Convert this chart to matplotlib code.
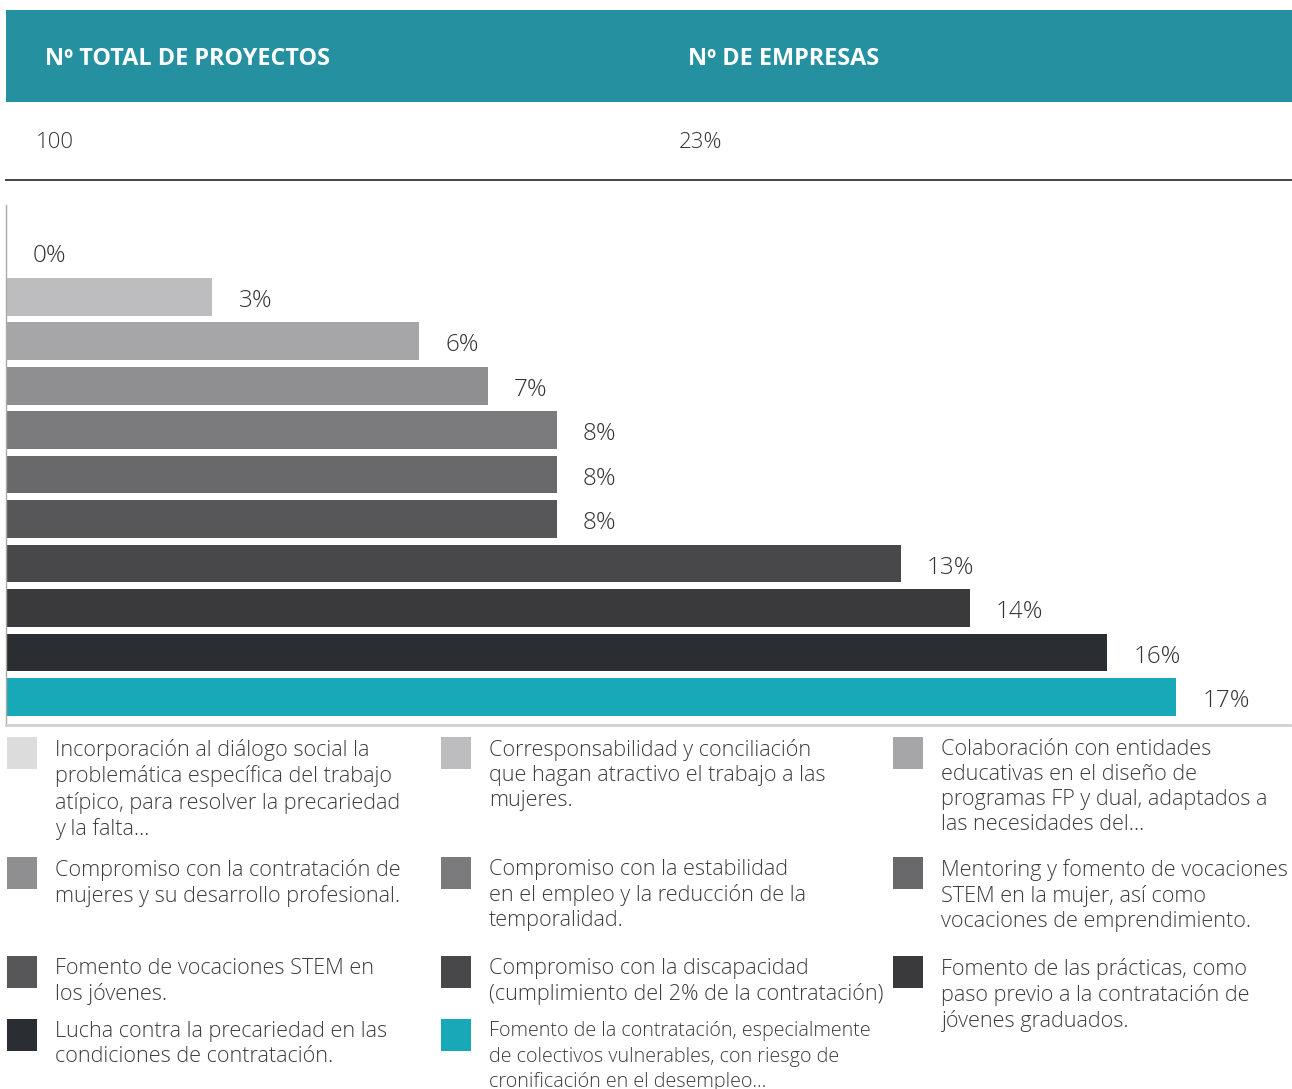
import matplotlib.pyplot as plt
from matplotlib.patches import Rectangle

plt.rcParams['font.family'] = ['Open Sans', 'DejaVu Sans']

# header table
header_titles = ["Nº TOTAL DE PROYECTOS", "Nº DE EMPRESAS"]
header_values = ["100", "23%"]

# bars, top to bottom
values = [0, 3, 6, 7, 8, 8, 8, 13, 14, 16, 17]
colors = ["#dcdcdd", "#bdbcbe", "#a6a5a7", "#8f8e90", "#7b7a7c", "#69686a",
          "#575658", "#48474a", "#3a3a3c", "#2a2d31", "#18a9b8"]
categories = [
    "Incorporación al diálogo social la\nproblemática específica del trabajo\natípico, para resolver la precariedad\ny la falta…",
    "Corresponsabilidad y conciliación\nque hagan atractivo el trabajo a las\nmujeres.",
    "Colaboración con entidades\neducativas en el diseño de\nprogramas FP y dual, adaptados a\nlas necesidades del…",
    "Compromiso con la contratación de\nmujeres y su desarrollo profesional.",
    "Compromiso con la estabilidad\nen el empleo y la reducción de la\ntemporalidad.",
    "Mentoring y fomento de vocaciones\nSTEM en la mujer, así como\nvocaciones de emprendimiento.",
    "Fomento de vocaciones STEM en\nlos jóvenes.",
    "Compromiso con la discapacidad\n(cumplimiento del 2% de la contratación)",
    "Fomento de las prácticas, como\npaso previo a la contratación de\njóvenes graduados.",
    "Lucha contra la precariedad en las\ncondiciones de contratación.",
    "Fomento de la contratación, especialmente\nde colectivos vulnerables, con riesgo de\ncronificación en el desempleo…",
]

W, H = 1292, 1089
fig = plt.figure(figsize=(W / 100, H / 100), dpi=100)

# page layer in pixel coordinates
bg = fig.add_axes([0, 0, 1, 1])
bg.set_xlim(0, W)
bg.set_ylim(H, 0)
bg.axis('off')

bg.add_patch(Rectangle((6, 10), W - 6, 92, color="#2490a0", lw=0))
for x, t in zip([45, 688], header_titles):
    bg.text(x, 59, t, color="white", fontsize=16.8, fontweight='bold', va='center')
for x, t in zip([36, 679], header_values):
    bg.text(x, 143, t, color="#333333", fontsize=16, fontweight=300, va='center')
bg.plot([6, W], [180, 180], color="#444444", lw=1.4)

# legend grid, row by row
col_x = [7, 441, 893]
row_y = [737, 857, 956, 1019]
for k, (lab, c) in enumerate(zip(categories, colors)):
    r, cidx = divmod(k, 3)
    x, y = col_x[cidx], row_y[r]
    bg.add_patch(Rectangle((x, y), 30, 32, color=c, lw=0))
    long_line = len(lab.split("\n")[0]) > 38
    fs = 14.2 if long_line else 15.6
    ls = 1.38 if long_line else 1.25
    bg.text(x + 48, y + 2, lab, color="#3c3c3c", fontsize=fs, fontweight=300,
            va='top', linespacing=ls)

# bar chart
ax = fig.add_axes([6 / W, 1 - 725 / H, (1290 - 6) / W, 520 / H])
pos = list(range(len(values)))
ax.barh(pos, values, height=0.85, color=colors, lw=0)
ax.set_xlim(0, 17 * 1284 / 1170)
ax.set_ylim(10.63, -1.06)
for i, v in zip(pos, values):
    ax.annotate(f"{v}%", xy=(v, i), xytext=(19, -3), textcoords='offset points',
                va='center', fontsize=17.5, fontweight=300, color="#333333")
ax.set_xticks([])
ax.set_yticks([])
for s in ['top', 'right']:
    ax.spines[s].set_visible(False)
ax.spines['left'].set_color("#aaaaaa")
ax.spines['left'].set_linewidth(1)
ax.spines['bottom'].set_color("#d0d0d0")
ax.spines['bottom'].set_linewidth(2)
ax.patch.set_alpha(0)

fig.savefig("out.png", dpi=100)
